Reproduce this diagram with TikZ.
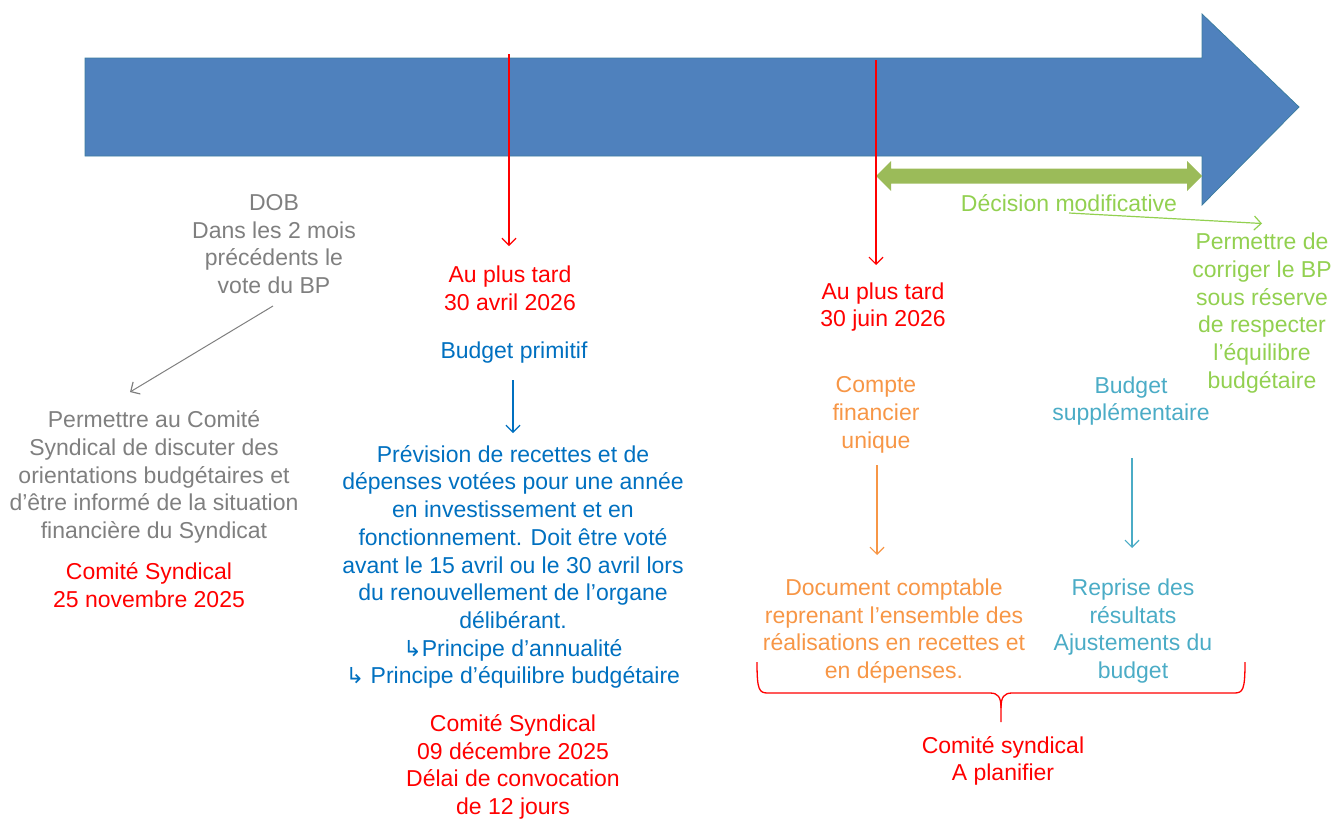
\documentclass[tikz,border=0pt]{standalone}
\usepackage{fontspec}
\setmainfont{Liberation Sans}
\newfontfamily\symfont{DejaVu Sans}
\usetikzlibrary{arrows.meta}
\definecolor{barblue}{RGB}{79,129,189}
\definecolor{baredge}{RGB}{60,125,160}
\definecolor{pred}{RGB}{255,0,0}
\definecolor{pblue}{RGB}{0,112,192}
\definecolor{porange}{RGB}{247,150,70}
\definecolor{pteal}{RGB}{75,172,198}
\definecolor{pgreen}{RGB}{146,208,80}
\definecolor{pgreenb}{RGB}{155,187,89}
\definecolor{pgray}{RGB}{127,127,127}
\begin{document}
\begin{tikzpicture}[x=1pt,y=-1pt,
  txt/.style={align=center,inner sep=0pt,font=\fontsize{23}{27.7}\selectfont},
  conn/.style={line width=1.2pt,-{Straight Barb[length=7pt,width=14pt,line width=1.2pt]}},
  bar/.style={fill=barblue,draw=baredge,line width=0.8pt}]
\useasboundingbox (0,0) rectangle (1341,820);
% main arrow
\path[bar] (85,58) -- (1202,58) -- (1202,14) -- (1299,107) -- (1202,205) -- (1202,156) -- (85,156) -- cycle;
% green double arrow
\path[fill=pgreenb] (876,176) -- (891,161) -- (891,168.5) -- (1187,168.5) -- (1187,161) -- (1202,176) -- (1187,191) -- (1187,183.5) -- (891,183.5) -- (891,191) -- cycle;
% texts
\node[txt,text=pgray] (dob) at (274,244) {DOB\\Dans les 2 mois\\précédents le\\vote du BP};
\node[txt,text=pgray] (perm1) at (154,477) {Permettre au Comité\\Syndical de discuter des\\orientations budgétaires et\\d’être informé de la situation\\financière du Syndicat};
\node[txt,text=pred] (cs1) at (149,585) {Comité Syndical\\25 novembre 2025};
\node[txt,text=pred] (apt1) at (510,288) {Au plus tard\\30 avril 2026};
\node[txt,text=pblue] (bp) at (514,353) {Budget primitif};
\node[txt,text=pblue] (prev) at (513,567) {Prévision de recettes et de\\dépenses votées pour une année\\en investissement et en\\fonctionnement. Doit être voté\\avant le 15 avril ou le 30 avril lors\\du renouvellement de l’organe\\délibérant.\\{\symfont\fontsize{22}{27.7}\selectfont ↳}Principe d’annualité\\{\symfont\fontsize{22}{27.7}\selectfont ↳} Principe d’équilibre budgétaire};
\node[txt,text=pred] (cs2) at (513,767) {Comité Syndical\\09 décembre 2025\\Délai de convocation\\de 12 jours};
\node[txt,text=pred] (apt2) at (883,307) {Au plus tard\\30 juin 2026};
\node[txt,text=porange] (cfu) at (876,415) {Compte\\financier\\unique};
\node[txt,text=porange] (doc) at (894,631) {Document comptable\\reprenant l’ensemble des\\réalisations en recettes et\\en dépenses.};
\node[txt,text=pteal] (bs) at (1131,401) {Budget\\supplémentaire};
\node[txt,text=pteal] (rep) at (1133,631) {Reprise des\\résultats\\Ajustements du\\budget};
\node[txt,text=pred] (csp) at (1003,761) {Comité syndical\\A planifier};
\node[txt,text=pgreen] (dm) at (1069,203) {Décision modificative};
\node[txt,text=pgreen] (pdb) at (1262,313) {Permettre de\\corriger le BP\\sous réserve\\de respecter\\l’équilibre\\budgétaire};
% connector coordinates
\coordinate (r1a) at (509,54);  \coordinate (r1b) at (509,246);
\coordinate (r2a) at (876,60);  \coordinate (r2b) at (876,265);
\coordinate (ga) at (273,306);  \coordinate (gb) at (130,392);
\coordinate (ba) at (513,380);  \coordinate (bb) at (513,433);
\coordinate (oa) at (877,465);  \coordinate (ob) at (877,555);
\coordinate (ta) at (1132,458); \coordinate (tb) at (1132,548);
\coordinate (la) at (1069,213); \coordinate (lb) at (1262,223.5);
\draw[conn,pred] (r1a) -- (r1b);
\draw[conn,pred] (r2a) -- (r2b);
\draw[conn,pgray,line width=1pt] (ga) -- (gb);
\draw[conn,pblue] (ba) -- (bb);
\draw[conn,porange] (oa) -- (ob);
\draw[conn,pteal] (ta) -- (tb);
\draw[conn,pgreen] (la) -- (lb);
% brace
\draw[pred,line width=1.3pt] (757,662) .. controls (757,690) and (759,693) .. (768,693) -- (990,693)
  .. controls (998,693) and (1001,697) .. (1001,708) -- (1001,722);
\draw[pred,line width=1.3pt] (1245,662) .. controls (1245,690) and (1243,693) .. (1234,693) -- (1012,693)
  .. controls (1004,693) and (1001,697) .. (1001,708);
\end{tikzpicture}
\end{document}
